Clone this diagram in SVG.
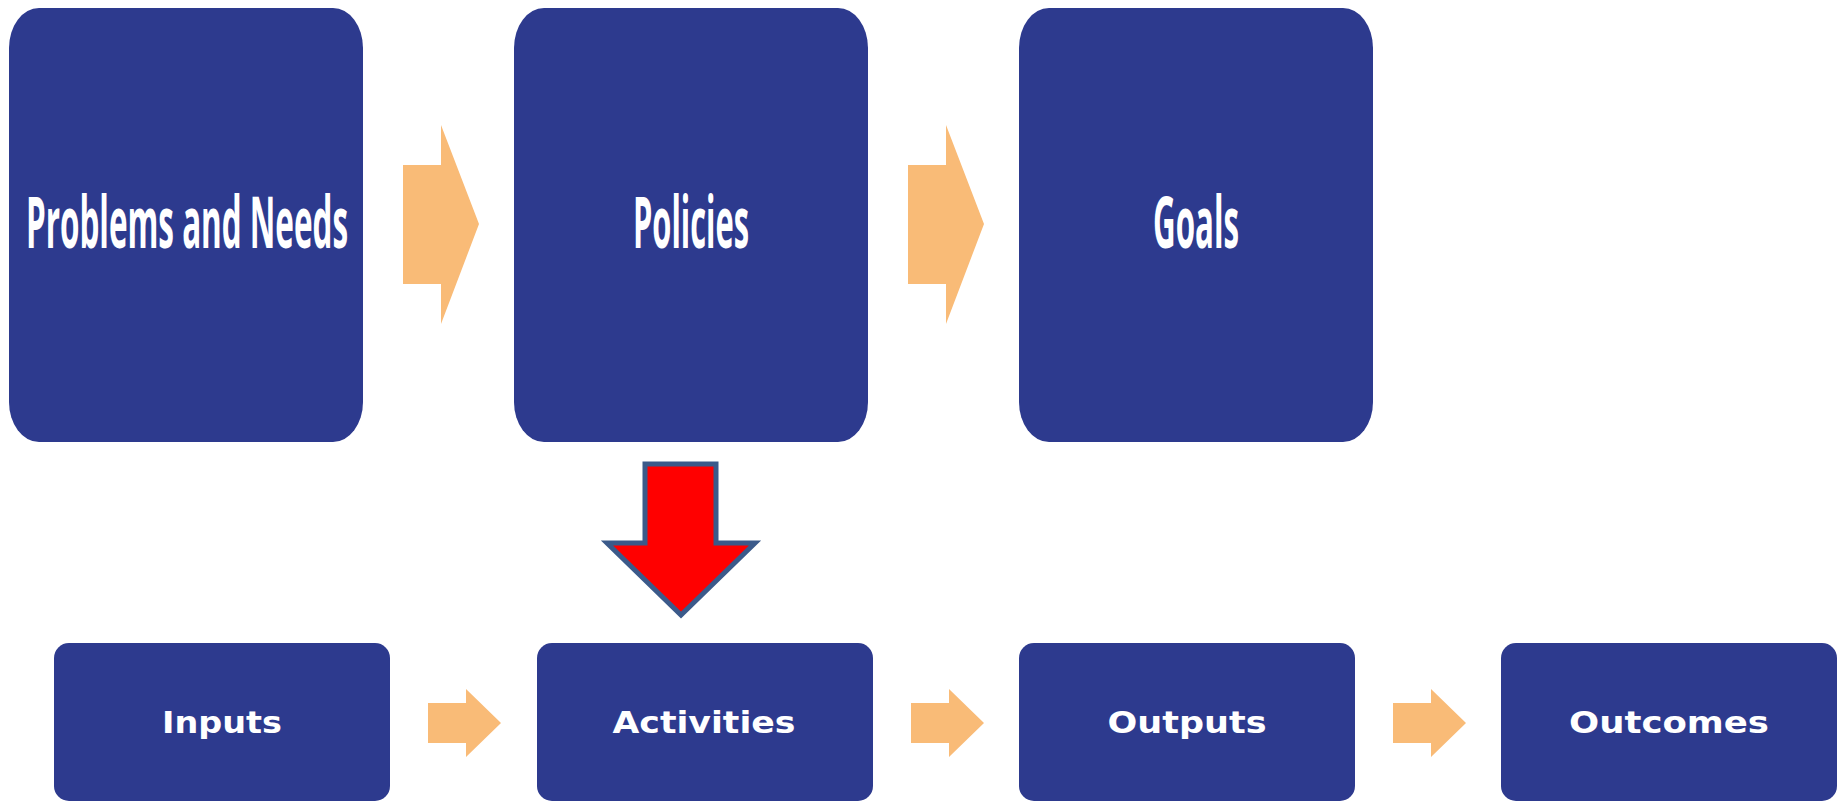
<svg xmlns="http://www.w3.org/2000/svg" width="1845" height="801" viewBox="0 0 1845 801">
<style>
.box{fill:#2D3A8E}
.big{font-family:"Open Sans","Noto Sans",sans-serif;font-weight:700;fill:#fff;font-size:40px}
.small{font-family:"DejaVu Sans",sans-serif;font-weight:700;fill:#fff;font-size:30px}
.oa{fill:#F9BB77}
</style>
<rect width="1845" height="801" fill="#fff"/>
<g id="connectors">
<path class="oa" d="M403,165 H441 V125 L479,224 L441,324 V284 H403 Z"/>
<path class="oa" d="M908,165 H946 V125 L984,224 L946,324 V284 H908 Z"/>
<path class="oa" d="M428,703 H466 V689 L501,723 L466,757 V743 H428 Z"/>
<path class="oa" d="M911,703 H949 V689 L984,723 L949,757 V743 H911 Z"/>
<path class="oa" d="M1393,703 H1431 V689 L1466,723 L1431,757 V743 H1393 Z"/>
<path d="M645,464 H716 V543 H755 L681,615 L607,543 H645 Z" fill="#FF0000" stroke="#3B5A8A" stroke-width="5" stroke-linejoin="miter"/>
</g>
<g id="problems">
<rect class="box" x="9" y="8" width="354" height="434" rx="30" ry="40"/>
<text class="big" transform="translate(187,248) scale(1,1.8)" x="0" y="0" text-anchor="middle" textLength="322" lengthAdjust="spacingAndGlyphs">Problems and Needs</text>
</g>
<g id="policies">
<rect class="box" x="514" y="8" width="354" height="434" rx="30" ry="40"/>
<text class="big" transform="translate(691,248) scale(1,1.8)" x="0" y="0" text-anchor="middle" textLength="116" lengthAdjust="spacingAndGlyphs">Policies</text>
</g>
<g id="goals">
<rect class="box" x="1019" y="8" width="354" height="434" rx="30" ry="40"/>
<text class="big" transform="translate(1196,248) scale(1,1.8)" x="0" y="0" text-anchor="middle" textLength="86" lengthAdjust="spacingAndGlyphs">Goals</text>
</g>
<g id="inputs">
<rect class="box" x="54" y="643" width="336" height="158" rx="15"/>
<text class="small" x="222" y="733" text-anchor="middle" textLength="120" lengthAdjust="spacingAndGlyphs">Inputs</text>
</g>
<g id="activities">
<rect class="box" x="537" y="643" width="336" height="158" rx="15"/>
<text class="small" x="704" y="733" text-anchor="middle" textLength="183" lengthAdjust="spacingAndGlyphs">Activities</text>
</g>
<g id="outputs">
<rect class="box" x="1019" y="643" width="336" height="158" rx="15"/>
<text class="small" x="1187" y="733" text-anchor="middle" textLength="159" lengthAdjust="spacingAndGlyphs">Outputs</text>
</g>
<g id="outcomes">
<rect class="box" x="1501" y="643" width="336" height="158" rx="15"/>
<text class="small" x="1669" y="733" text-anchor="middle" textLength="200" lengthAdjust="spacingAndGlyphs">Outcomes</text>
</g>
</svg>
